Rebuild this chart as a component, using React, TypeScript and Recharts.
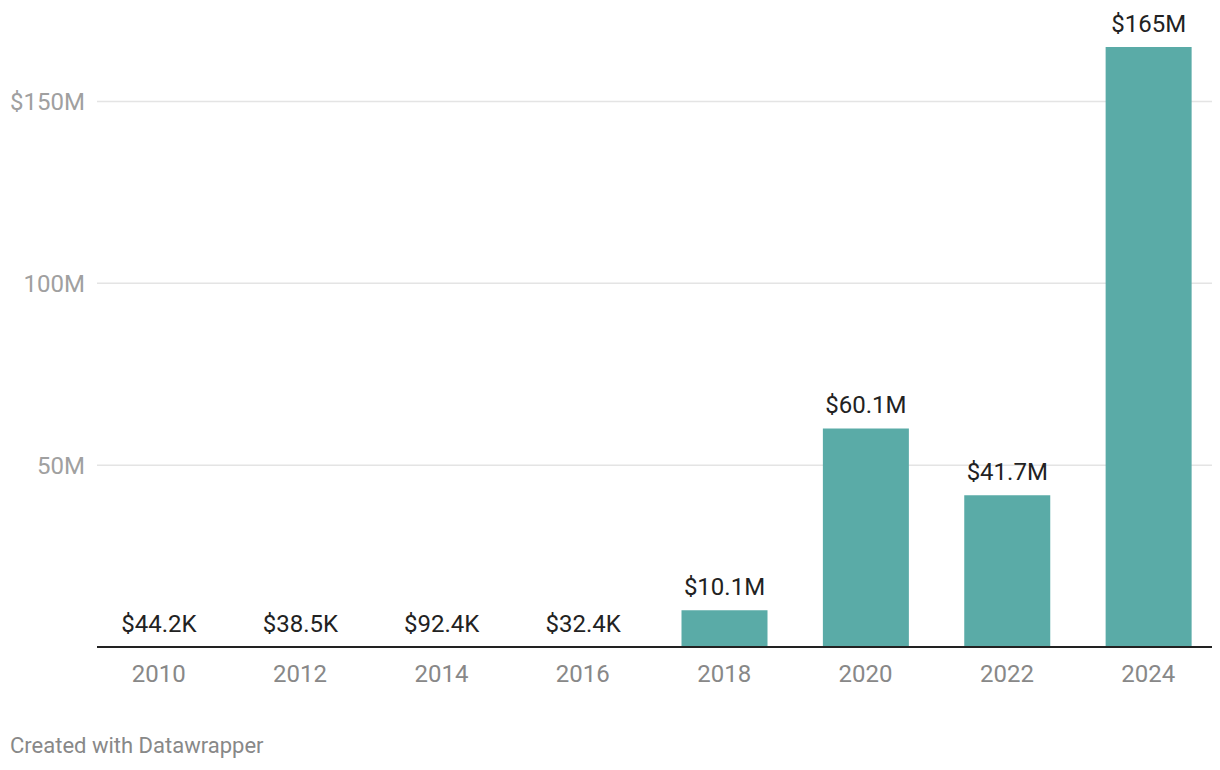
import { BarChart, Bar, XAxis, YAxis, CartesianGrid, LabelList } from "recharts";

// funding per year, in millions of dollars
const years = ["2010", "2012", "2014", "2016", "2018", "2020", "2022", "2024"];
const funding = [0.0442, 0.0385, 0.0924, 0.0324, 10.1, 60.1, 41.7, 165];
const fundingLabels = ["$44.2K", "$38.5K", "$92.4K", "$32.4K", "$10.1M", "$60.1M", "$41.7M", "$165M"];

const yTicks = [50, 100, 150];
const yTickLabels = ["50M", "100M", "$150M"];

const data = years.map((year, i) => ({ year, value: funding[i], label: fundingLabels[i] }));

const FONT = "Roboto, sans-serif";

const YTick = (props: any) => {
  const { y, payload } = props;
  const idx = yTicks.indexOf(payload.value);
  return (
    <text x={85} y={y} dy="0.35em" textAnchor="end" fill="#a0a0a0" fontSize={24} fontFamily={FONT}>
      {idx >= 0 ? yTickLabels[idx] : ""}
    </text>
  );
};

const XTick = (props: any) => {
  const { x, y, payload } = props;
  return (
    <text x={x} y={y + 19} dy="0.35em" textAnchor="middle" fill="#888888" fontSize={24} fontFamily={FONT}>
      {payload.value}
    </text>
  );
};

export default function App() {
  return (
    <div style={{ position: "absolute", left: 0, top: 0, width: 1220, height: 770, background: "#fff" }}>
      <BarChart
        width={1220}
        height={770}
        data={data}
        margin={{ top: 47, right: 8, left: 0, bottom: 83 }}
      >
        <CartesianGrid vertical={false} horizontalValues={yTicks} stroke="#e4e4e4" strokeWidth={1.5} />
        <XAxis
          dataKey="year"
          height={40}
          tickLine={false}
          axisLine={{ stroke: "#222", strokeWidth: 2 }}
          padding={{ left: -9, right: -7 }}
          tick={<XTick />}
          interval={0}
        />
        <YAxis
          width={97}
          domain={[0, 165]}
          ticks={yTicks}
          axisLine={false}
          tickLine={false}
          tick={<YTick />}
        />
        <Bar dataKey="value" fill="#5aaba7" barSize={86} isAnimationActive={false}>
          <LabelList
            dataKey="label"
            position="top"
            offset={15}
            fill="#222"
            fontSize={24}
            fontFamily={FONT}
          />
        </Bar>
      </BarChart>
      <div
        style={{
          position: "absolute",
          left: 10,
          top: 733,
          fontFamily: FONT,
          fontSize: 22,
          color: "#888",
          whiteSpace: "nowrap",
        }}
      >
        Created with Datawrapper
      </div>
    </div>
  );
}
